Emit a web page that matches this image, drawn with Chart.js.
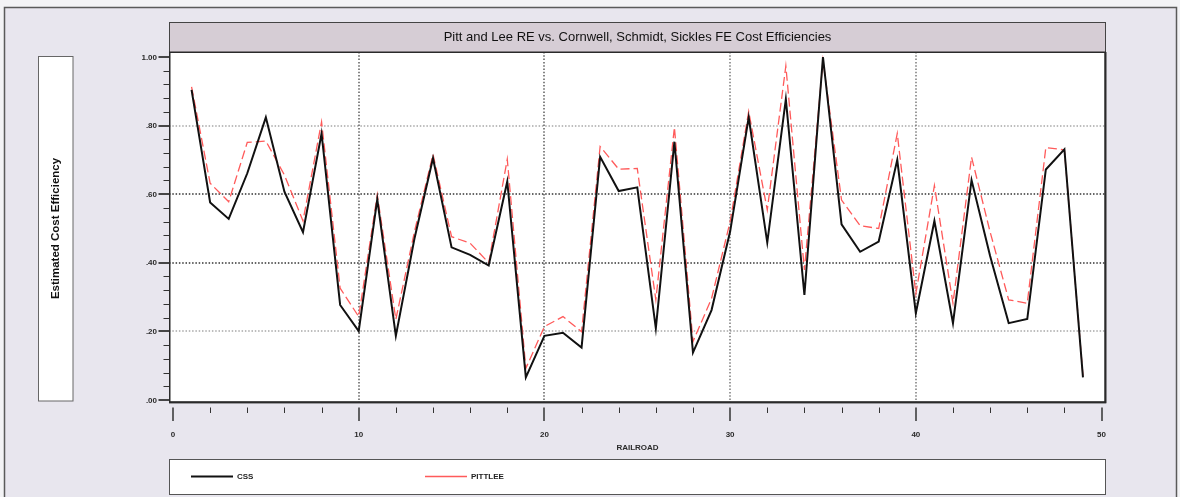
<!DOCTYPE html>
<html><head><meta charset="utf-8">
<script src="https://cdn.jsdelivr.net/npm/chart.js@4.4.1/dist/chart.umd.min.js"></script>
<style>html,body{margin:0;padding:0;background:#f3f3f5;overflow:hidden}#wrap{width:1180px;height:497px;position:relative}canvas{display:block}</style>
</head><body><div id="wrap"><canvas id="c" width="1180" height="497"></canvas></div>
<script>
const railroads = [1,2,3,4,5,6,7,8,9,10,11,12,13,14,15,16,17,18,19,20,21,22,23,24,25,26,27,28,29,30,31,32,33,34,35,36,37,38,39,40,41,42,43,44,45,46,47,48,49];
const css = [0.904,0.576,0.528,0.661,0.824,0.607,0.489,0.777,0.277,0.201,0.585,0.187,0.470,0.705,0.445,0.423,0.392,0.637,0.066,0.187,0.196,0.153,0.709,0.609,0.620,0.209,0.753,0.138,0.262,0.491,0.824,0.459,0.877,0.306,1.000,0.512,0.432,0.462,0.700,0.253,0.522,0.224,0.641,0.420,0.224,0.236,0.672,0.731,0.066];
const pittlee = [0.913,0.632,0.578,0.751,0.755,0.656,0.522,0.811,0.326,0.243,0.598,0.235,0.490,0.716,0.476,0.457,0.400,0.702,0.092,0.214,0.243,0.199,0.739,0.673,0.675,0.292,0.795,0.170,0.296,0.520,0.841,0.554,0.974,0.379,0.990,0.583,0.508,0.500,0.777,0.310,0.625,0.282,0.708,0.490,0.292,0.282,0.736,0.729,0.070];
const seriesNames = ['CSS','PITTLEE'];
const yTickValues = [0,0.2,0.4,0.6,0.8,1.0];
const yTickLabels = ['.00','.20','.40','.60','.80','1.00'];
const xTickValues = [0,10,20,30,40,50];
const xTickLabels = ['0','10','20','30','40','50'];
const chartTitle = 'Pitt and Lee RE vs. Cornwell, Schmidt, Sickles FE Cost Efficiencies';
const yTitle = 'Estimated Cost Efficiency';
const xTitle = 'RAILROAD';

const FONT = '"Liberation Sans", Arial, sans-serif';

const deco = {
  id: 'deco',
  beforeDraw(chart) {
    const ctx = chart.ctx, a = chart.chartArea;
    ctx.save();
    ctx.fillStyle = '#f3f3f5';
    ctx.fillRect(0, 0, chart.width, chart.height);
    ctx.fillStyle = '#e8e6ee';
    ctx.fillRect(4, 7, 1173, 500);
    ctx.strokeStyle = '#5a5a5a';
    ctx.lineWidth = 1.5;
    ctx.strokeRect(4.5, 7.5, 1172, 500);
    ctx.fillStyle = '#d6cdd5';
    ctx.fillRect(a.left, 22, a.right - a.left, a.top - 22);
    ctx.strokeStyle = '#444';
    ctx.lineWidth = 1;
    ctx.strokeRect(a.left + 0.5, 22.5, a.right - a.left - 1, a.top - 22);
    ctx.fillStyle = '#111';
    ctx.font = '13px ' + FONT;
    ctx.textAlign = 'center';
    ctx.textBaseline = 'middle';
    ctx.fillText(chartTitle, (a.left + a.right) / 2, 37.5);
    ctx.fillStyle = '#fff';
    ctx.fillRect(38, 56, 35, 345);
    ctx.strokeStyle = '#666';
    ctx.strokeRect(38.5, 56.5, 34.5, 344.5);
    ctx.save();
    ctx.translate(56, 228.5);
    ctx.rotate(-Math.PI / 2);
    ctx.fillStyle = '#111';
    ctx.font = 'bold 11.5px ' + FONT;
    ctx.fillText(yTitle, 0, 0);
    ctx.restore();
    ctx.fillStyle = '#fff';
    ctx.fillRect(a.left, a.top, a.right - a.left, a.bottom - a.top);
    ctx.fillStyle = '#fff';
    ctx.fillRect(a.left, 459, a.right - a.left, 35);
    ctx.strokeStyle = '#555';
    ctx.strokeRect(a.left + 0.5, 459.5, a.right - a.left - 1, 35);
    const ds = chart.data.datasets;
    const items = [[191, 233, 237], [425, 467, 471]];
    ds.forEach((d, i) => {
      const it = items[i];
      ctx.strokeStyle = d.borderColor;
      ctx.lineWidth = i === 0 ? 2.2 : 1.6;
      ctx.setLineDash([]);
      ctx.beginPath(); ctx.moveTo(it[0], 476.5); ctx.lineTo(it[1], 476.5); ctx.stroke();
      ctx.fillStyle = '#222';
      ctx.font = 'bold 8px ' + FONT;
      ctx.textAlign = 'left';
      ctx.fillText(d.label, it[2], 477);
    });
    ctx.restore();
  },
  beforeDatasetsDraw(chart) {
    const ctx = chart.ctx, a = chart.chartArea, xs = chart.scales.x, ys = chart.scales.y;
    ctx.save();
    ctx.lineWidth = 1.5;
    ctx.setLineDash([1.5, 1.8]);
    yTickValues.forEach(v => {
      if (v <= 0 || v >= 1) return;
      const y = Math.round(ys.getPixelForValue(v));
      ctx.strokeStyle = (Math.abs(v - 0.4) < 1e-6 || Math.abs(v - 0.6) < 1e-6) ? '#333' : '#a8a8a8';
      ctx.beginPath(); ctx.moveTo(a.left, y); ctx.lineTo(a.right, y); ctx.stroke();
    });
    ctx.lineWidth = 1.3;
    xTickValues.forEach(v => {
      if (v <= 0 || v >= 50) return;
      const x = Math.round(xs.getPixelForValue(v));
      ctx.strokeStyle = v <= 20 ? '#444' : '#666';
      ctx.beginPath(); ctx.moveTo(x, a.top); ctx.lineTo(x, a.bottom); ctx.stroke();
    });
    ctx.restore();
  },
  afterDatasetsDraw(chart) {
    const ctx = chart.ctx, a = chart.chartArea, xs = chart.scales.x, ys = chart.scales.y;
    ctx.save();
    ctx.setLineDash([]);
    ctx.strokeStyle = '#2a2a2a';
    ctx.lineWidth = 1.5;
    ctx.strokeRect(a.left + 0.75, a.top + 0.25, a.right - a.left - 1.5, a.bottom - a.top - 0.5);
    ctx.lineWidth = 2;
    ctx.beginPath();
    ctx.moveTo(a.left, a.bottom - 0.5); ctx.lineTo(a.right - 0.5, a.bottom - 0.5); ctx.lineTo(a.right - 0.5, a.top);
    ctx.stroke();
    ctx.strokeStyle = '#333';
    for (let k = 0; k <= 25; k++) {
      const v = k * 0.04;
      const major = k % 5 === 0;
      const y = Math.round(ys.getPixelForValue(v)) + (major ? 0 : 0.5);
      ctx.lineWidth = major ? 1.8 : 1;
      ctx.beginPath(); ctx.moveTo(major ? 158.5 : 163.5, y); ctx.lineTo(a.left, y); ctx.stroke();
    }
    ctx.fillStyle = '#2a2a2a';
    ctx.font = 'bold 8px ' + FONT;
    ctx.textAlign = 'right';
    ctx.textBaseline = 'middle';
    yTickValues.forEach((v, i) => {
      ctx.fillText(yTickLabels[i], 157, ys.getPixelForValue(v) + 0.5);
    });
    for (let k = 0; k <= 25; k++) {
      const v = k * 2;
      const major = k % 5 === 0;
      const x = Math.round(xs.getPixelForValue(v)) + (major ? 0 : 0.5);
      ctx.lineWidth = major ? 1.5 : 1;
      ctx.beginPath(); ctx.moveTo(x, 407.5); ctx.lineTo(x, major ? 421 : 413); ctx.stroke();
    }
    ctx.textAlign = 'center';
    xTickValues.forEach((v, i) => {
      ctx.fillText(xTickLabels[i], xs.getPixelForValue(v), 434.5);
    });
    ctx.fillText(xTitle, (a.left + a.right) / 2, 448);
    ctx.restore();
  }
};

new Chart(document.getElementById('c'), {
  type: 'line',
  data: {
    labels: railroads,
    datasets: [
      { label: seriesNames[0], data: railroads.map((r, i) => ({ x: r, y: css[i] })), borderColor: '#111111', borderWidth: 2, pointRadius: 0, tension: 0, fill: false },
      { label: seriesNames[1], data: railroads.map((r, i) => ({ x: r, y: pittlee[i] })), borderColor: '#ff5a5a', borderWidth: 1.3, borderDash: [9, 4], pointRadius: 0, tension: 0, fill: false }
    ]
  },
  options: {
    responsive: false,
    animation: false,
    devicePixelRatio: 1,
    layout: { padding: { left: 169, top: 52, right: 74, bottom: 94.3 } },
    scales: {
      x: { type: 'linear', min: -0.215, max: 50.24, display: false },
      y: { type: 'linear', min: -0.008, max: 1.0146, display: false }
    },
    plugins: { legend: { display: false }, title: { display: false }, tooltip: { enabled: false } },
    elements: { line: { borderJoinStyle: 'miter', borderCapStyle: 'butt' } }
  },
  plugins: [deco]
});
</script>
</body></html>
